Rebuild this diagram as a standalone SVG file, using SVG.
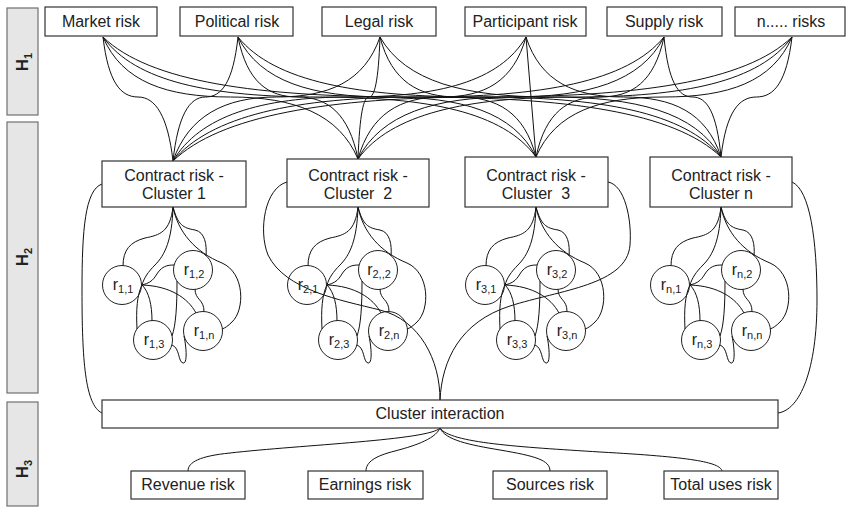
<svg xmlns="http://www.w3.org/2000/svg" xmlns:xlink="http://www.w3.org/1999/xlink" width="847" height="516" viewBox="0 0 847 516">
<style>
.box{fill:#fff;stroke:#333;stroke-width:1.2}
.bar{fill:#e6e6e6;stroke:#707070;stroke-width:1.2}
.lbl{font-family:"Liberation Sans",Arial,sans-serif;font-size:16px;fill:#222;text-anchor:middle}
.rl{font-family:"Liberation Sans",Arial,sans-serif;font-size:16px;fill:#222;text-anchor:middle}
.sub{font-size:11px}
.node{fill:none;stroke:#222;stroke-width:1}
.c{fill:none;stroke:#111;stroke-width:1}
.h{font-family:"Liberation Sans",Arial,sans-serif;font-weight:bold;font-size:17px;text-anchor:middle;fill:#222}
.hs{font-size:11px}
</style>
<defs>
<g id="edges-tpl" class="c">
<path d="M173,207 C170,232 160,235 145,238 C130,242 123,250 123,266"/>
<path d="M173,207 C172,240 165,255 155,265 C148,272 144,278 142,285"/>
<path d="M173,207 C178,225 183,228 195,230 C205,232 207,245 206,256"/>
<path d="M173,207 C178,232 195,252 222,263 C245,273 245,310 232,322 C228,326 225,328 222,329"/>
<path d="M142,285 C155,282 155,275 160,270 C164,266 168,265 174,265"/>
<path d="M142,285 C170,286 188,298 196,313"/>
<path d="M142,285 C149,292 152,305 152,321"/>
<path d="M142,285 C137,295 136,310 137,329"/>
<path d="M195,289 C195,300 204,299 204,311.5"/>
<path d="M177,281 C177,305 176,325 172,336"/>
<path d="M172,345 C180,348 178,362 183,363 C188,364 186,345 184,336"/>
</g>
</defs>

<g id="level-bars">
<g id="H1"><rect class="bar" x="7" y="8" width="31" height="107"/><text class="h" transform="translate(28,62) rotate(-90)">H<tspan class="hs" dy="4">1</tspan></text></g>
<g id="H2"><rect class="bar" x="7" y="122" width="31" height="271"/><text class="h" transform="translate(28,257) rotate(-90)">H<tspan class="hs" dy="4">2</tspan></text></g>
<g id="H3"><rect class="bar" x="7" y="402" width="31" height="104"/><text class="h" transform="translate(28,469) rotate(-90)">H<tspan class="hs" dy="4">3</tspan></text></g>
</g>

<g id="connectors">
<g id="top-links" class="c">
<path d="M103,37 C108.3,82 120.5,97 138,97 C155.5,97 167.8,116 173,161"/>
<path d="M103,37 C122.1,82 166.8,97 230.5,97 C294.3,97 338.9,114 358,159"/>
<path d="M103,37 C135.5,82 211.2,97 319.5,97 C427.8,97 503.5,112 536,157"/>
<path d="M103,37 C149.4,82 257.5,97 412,97 C566.5,97 674.6,112 721,157"/>
<path d="M238,37 C233.1,82 221.8,97 205.5,97 C189.2,97 177.9,116 173,161"/>
<path d="M238,37 C247,82 268,97 298,97 C328,97 349,114 358,159"/>
<path d="M238,37 C260.4,82 312.5,97 387,97 C461.5,97 513.6,112 536,157"/>
<path d="M238,37 C274.2,82 358.8,97 479.5,97 C600.3,97 684.8,112 721,157"/>
<path d="M380,37 C364.5,82 328.3,97 276.5,97 C224.8,97 188.5,116 173,161"/>
<path d="M380,37 C378.4,82 374.5,97 369,97 C363.5,97 359.7,114 358,159"/>
<path d="M380,37 C391.7,82 419,97 458,97 C497,97 524.3,112 536,157"/>
<path d="M380,37 C405.6,82 465.3,97 550.5,97 C635.8,97 695.4,112 721,157"/>
<path d="M526,37 C499.5,82 437.8,97 349.5,97 C261.3,97 199.5,116 173,161"/>
<path d="M526,37 C513.4,82 484,97 442,97 C400,97 370.6,114 358,159"/>
<path d="M526,37 L536,157"/>
<path d="M526,37 C540.6,82 574.8,97 623.5,97 C672.3,97 706.4,112 721,157"/>
<path d="M664,37 C627.2,82 541.3,97 418.5,97 C295.8,97 209.8,116 173,161"/>
<path d="M664,37 C641,82 587.5,97 511,97 C434.5,97 381,114 358,159"/>
<path d="M664,37 C654.4,82 632,97 600,97 C568,97 545.6,112 536,157"/>
<path d="M664,37 C668.3,82 678.3,97 692.5,97 C706.8,97 716.7,112 721,157"/>
<path d="M792,37 C745.6,82 637.3,97 482.5,97 C327.8,97 219.4,116 173,161"/>
<path d="M792,37 C759.4,82 683.5,97 575,97 C466.5,97 390.6,114 358,159"/>
<path d="M792,37 C772.8,82 728,97 664,97 C600,97 555.2,112 536,157"/>
<path d="M792,37 C786.7,82 774.3,97 756.5,97 C738.8,97 726.3,112 721,157"/>
</g>
<g id="cluster-edges">
<use xlink:href="#edges-tpl" href="#edges-tpl"/>
<use xlink:href="#edges-tpl" href="#edges-tpl" transform="translate(185,0)"/>
<use xlink:href="#edges-tpl" href="#edges-tpl" transform="translate(363,0)"/>
<use xlink:href="#edges-tpl" href="#edges-tpl" transform="translate(548,0)"/>
</g>
<g id="interaction-links" class="c">
<path d="M102,184 C85,190 82,230 82,290 C82,360 85,405 102,413"/>
<path d="M287,182 C265,188 258,230 268,255 C285,290 340,300 380,310 C420,320 440,360 440,400"/>
<path d="M608,182 C625,185 632,220 630,245 C627,285 560,290 510,306 C460,322 442,360 440,400"/>
<path d="M792,182 C810,190 817,240 817,300 C817,370 800,410 778,413"/>
</g>
<g id="outcome-links" class="c">
<path d="M440,428 C430,440 300,445 230,453 C200,456 188,462 188,471"/>
<path d="M440,428 C435,440 410,447 395,451 C375,456 366,462 366,471"/>
<path d="M440,428 C445,440 470,445 500,450 C535,456 550,460 550,471"/>
<path d="M440,428 C450,443 520,447 600,452 C690,457 720,462 722,471"/>
</g>
</g>

<g id="market"><rect class="box" x="45" y="7" width="112" height="29"/><text class="lbl" x="101" y="27">Market risk</text></g>
<g id="political"><rect class="box" x="180" y="7" width="113" height="29"/><text class="lbl" x="237" y="27">Political risk</text></g>
<g id="legal"><rect class="box" x="322" y="7" width="114" height="29"/><text class="lbl" x="379" y="27">Legal risk</text></g>
<g id="participant"><rect class="box" x="465" y="7" width="121" height="29"/><text class="lbl" x="525" y="27">Participant risk</text></g>
<g id="supply"><rect class="box" x="607" y="7" width="115" height="29"/><text class="lbl" x="664" y="27">Supply risk</text></g>
<g id="n-risks"><rect class="box" x="735" y="7" width="110" height="29"/><text class="lbl" x="791" y="27">n..... risks</text></g>

<g id="cluster1"><rect class="box" x="102" y="161" width="144" height="46"/><text class="lbl" x="174" y="181">Contract risk -</text><text class="lbl" x="174" y="199" xml:space="preserve">Cluster 1</text></g>
<g id="cluster2"><rect class="box" x="287" y="159" width="142" height="48"/><text class="lbl" x="358" y="181">Contract risk -</text><text class="lbl" x="358" y="199" xml:space="preserve">Cluster  2</text></g>
<g id="cluster3"><rect class="box" x="465" y="157" width="143" height="50"/><text class="lbl" x="536" y="181">Contract risk -</text><text class="lbl" x="536" y="199" xml:space="preserve">Cluster  3</text></g>
<g id="clustern"><rect class="box" x="650" y="157" width="142" height="50"/><text class="lbl" x="721" y="181">Contract risk -</text><text class="lbl" x="721" y="199">Cluster n</text></g>

<g id="r1-1"><circle class="node" cx="122" cy="285" r="19.5"/><text class="rl" x="123" y="290">r<tspan class="sub" dy="3">1,1</tspan></text></g>
<g id="r1-2"><circle class="node" cx="193" cy="270" r="19.5"/><text class="rl" x="194" y="275">r<tspan class="sub" dy="3">1,2</tspan></text></g>
<g id="r1-3"><circle class="node" cx="153" cy="340" r="19.5"/><text class="rl" x="154" y="345">r<tspan class="sub" dy="3">1,3</tspan></text></g>
<g id="r1-n"><circle class="node" cx="203" cy="331" r="19.5"/><text class="rl" x="204" y="336">r<tspan class="sub" dy="3">1,n</tspan></text></g>

<g id="r2-1"><circle class="node" cx="307" cy="285" r="19.5"/><text class="rl" x="308" y="290">r<tspan class="sub" dy="3">2,1</tspan></text></g>
<g id="r2-2"><circle class="node" cx="378" cy="270" r="19.5"/><text class="rl" x="379" y="275">r<tspan class="sub" dy="3">2,,2</tspan></text></g>
<g id="r2-3"><circle class="node" cx="338" cy="340" r="19.5"/><text class="rl" x="339" y="345">r<tspan class="sub" dy="3">2,3</tspan></text></g>
<g id="r2-n"><circle class="node" cx="388" cy="331" r="19.5"/><text class="rl" x="389" y="336">r<tspan class="sub" dy="3">2,n</tspan></text></g>

<g id="r3-1"><circle class="node" cx="485" cy="285" r="19.5"/><text class="rl" x="486" y="290">r<tspan class="sub" dy="3">3,1</tspan></text></g>
<g id="r3-2"><circle class="node" cx="556" cy="270" r="19.5"/><text class="rl" x="557" y="275">r<tspan class="sub" dy="3">3,2</tspan></text></g>
<g id="r3-3"><circle class="node" cx="516" cy="340" r="19.5"/><text class="rl" x="517" y="345">r<tspan class="sub" dy="3">3,3</tspan></text></g>
<g id="r3-n"><circle class="node" cx="566" cy="331" r="19.5"/><text class="rl" x="567" y="336">r<tspan class="sub" dy="3">3,n</tspan></text></g>

<g id="rn-1"><circle class="node" cx="670" cy="285" r="19.5"/><text class="rl" x="671" y="290">r<tspan class="sub" dy="3">n,1</tspan></text></g>
<g id="rn-2"><circle class="node" cx="741" cy="270" r="19.5"/><text class="rl" x="742" y="275">r<tspan class="sub" dy="3">n,2</tspan></text></g>
<g id="rn-3"><circle class="node" cx="701" cy="340" r="19.5"/><text class="rl" x="702" y="345">r<tspan class="sub" dy="3">n,3</tspan></text></g>
<g id="rn-n"><circle class="node" cx="751" cy="331" r="19.5"/><text class="rl" x="752" y="336">r<tspan class="sub" dy="3">n,n</tspan></text></g>

<g id="cluster-interaction"><rect class="box" x="102" y="400" width="676" height="28"/><text class="lbl" x="440" y="419">Cluster interaction</text></g>

<g id="revenue"><rect class="box" x="131" y="471" width="114" height="28"/><text class="lbl" x="188" y="490">Revenue risk</text></g>
<g id="earnings"><rect class="box" x="308" y="471" width="115" height="28"/><text class="lbl" x="365" y="490">Earnings risk</text></g>
<g id="sources"><rect class="box" x="493" y="471" width="114" height="28"/><text class="lbl" x="550" y="490">Sources risk</text></g>
<g id="total-uses"><rect class="box" x="664" y="471" width="114" height="28"/><text class="lbl" x="721" y="490">Total uses risk</text></g>
</svg>
